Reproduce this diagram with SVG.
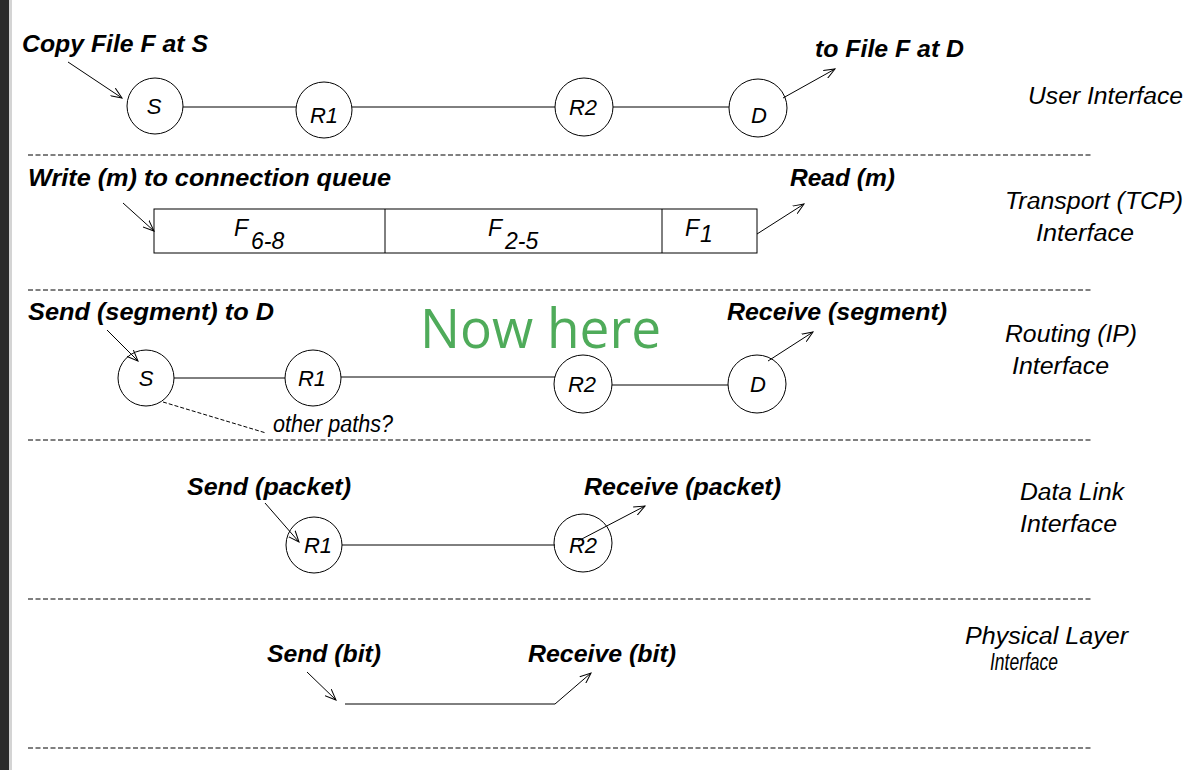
<svg xmlns="http://www.w3.org/2000/svg" width="1186" height="770" viewBox="0 0 1186 770">
<defs>
<style>
.bg{fill:#ffffff}
.node{fill:#ffffff;stroke:#000;stroke-width:1}
.edge{stroke:#000;stroke-width:1;fill:none}
.arr{stroke:#000;stroke-width:1;fill:none;marker-end:url(#ah)}
.sep{stroke:#000;stroke-width:1;stroke-dasharray:5,2.5;fill:none}
.lbl{font-family:"Liberation Sans",Arial,sans-serif;font-style:italic;font-weight:bold;font-size:23px;fill:#000}
.side{font-family:"Liberation Sans",Arial,sans-serif;font-style:italic;font-size:23px;fill:#000}
.nl{font-family:"Liberation Sans",Arial,sans-serif;font-style:italic;font-size:22px;fill:#000;text-anchor:middle}
.now{font-family:"Open Sans","Noto Sans",sans-serif;font-size:54px;fill:#4fab5a}
</style>
<marker id="ah" viewBox="0 0 12 10" refX="11" refY="5" markerWidth="12" markerHeight="10" markerUnits="userSpaceOnUse" orient="auto">
<path d="M0,0.5 L11,5 L0,9.5" fill="none" stroke="#000" stroke-width="1"/>
</marker>
</defs>
<rect class="bg" x="0" y="0" width="1186" height="770"/>
<rect x="0" y="0" width="9" height="770" fill="#2b2b2b"/>
<rect x="9" y="0" width="3" height="770" fill="#d4d4d4"/>

<g id="separators">
<line class="sep" x1="28" y1="155" x2="1092" y2="155"/>
<line class="sep" x1="28" y1="290" x2="1092" y2="290"/>
<line class="sep" x1="28" y1="440" x2="1092" y2="440"/>
<line class="sep" x1="28" y1="599" x2="1092" y2="599"/>
<line class="sep" x1="28" y1="748" x2="1092" y2="748"/>
</g>

<g id="layer-user">
<g id="u-S"><circle class="node" cx="155" cy="106" r="28"/><text class="nl" x="154" y="114">S</text></g>
<g id="u-R1"><circle class="node" cx="324" cy="110" r="28"/><text class="nl" x="324" y="123">R1</text></g>
<g id="u-R2"><circle class="node" cx="584" cy="107" r="29"/><text class="nl" x="583" y="115">R2</text></g>
<g id="u-D"><circle class="node" cx="758" cy="108" r="29"/><text class="nl" x="759" y="123">D</text></g>
<text class="lbl" x="22" y="52" textLength="186" lengthAdjust="spacingAndGlyphs">Copy File F at S</text>
<text class="lbl" x="815" y="57" textLength="149" lengthAdjust="spacingAndGlyphs">to File F at D</text>
<text class="side" x="1028" y="104" textLength="155" lengthAdjust="spacingAndGlyphs">User Interface</text>
</g>

<g id="layer-transport">
<g id="queue">
<rect class="node" x="154" y="209" width="603" height="44"/>
<line class="edge" x1="385" y1="209" x2="385" y2="253"/>
<line class="edge" x1="662" y1="209" x2="662" y2="253"/>
<text class="side" x="234" y="236">F</text><text class="side" x="251" y="249" font-size="20">6-8</text>
<text class="side" x="488" y="236">F</text><text class="side" x="505" y="249" font-size="20">2-5</text>
<text class="side" x="685" y="236">F</text><text class="side" x="700" y="242" font-size="19">1</text>
</g>
<text class="lbl" x="28" y="186" textLength="363" lengthAdjust="spacingAndGlyphs">Write (m) to connection queue</text>
<text class="lbl" x="790" y="186" textLength="105" lengthAdjust="spacingAndGlyphs">Read (m)</text>
<text class="side" x="1005" y="209" textLength="178" lengthAdjust="spacingAndGlyphs">Transport (TCP)</text>
<text class="side" x="1036" y="241" textLength="98" lengthAdjust="spacingAndGlyphs">Interface</text>
</g>

<g id="layer-routing">
<g id="r-S"><circle class="node" cx="146" cy="378" r="28"/><text class="nl" x="146" y="386">S</text></g>
<g id="r-R1"><circle class="node" cx="313" cy="378" r="28"/><text class="nl" x="312" y="386">R1</text></g>
<g id="r-R2"><circle class="node" cx="583" cy="384" r="29"/><text class="nl" x="582" y="392">R2</text></g>
<g id="r-D"><circle class="node" cx="757" cy="384" r="29"/><text class="nl" x="758" y="392">D</text></g>
<text class="lbl" x="28" y="320" textLength="246" lengthAdjust="spacingAndGlyphs">Send (segment) to D</text>
<text class="lbl" x="727" y="320" textLength="220" lengthAdjust="spacingAndGlyphs">Receive (segment)</text>
<text class="side" x="273" y="432" font-size="20" textLength="120" lengthAdjust="spacingAndGlyphs">other paths?</text>
<text class="now" x="420" y="348" textLength="241" lengthAdjust="spacingAndGlyphs">Now here</text>
<text class="side" x="1005" y="342" textLength="132" lengthAdjust="spacingAndGlyphs">Routing (IP)</text>
<text class="side" x="1012" y="374" textLength="97" lengthAdjust="spacingAndGlyphs">Interface</text>
</g>

<g id="layer-datalink">
<g id="d-R1"><circle class="node" cx="314" cy="545" r="28"/><text class="nl" x="318" y="553">R1</text></g>
<g id="d-R2"><circle class="node" cx="583" cy="543" r="29"/><text class="nl" x="583" y="553">R2</text></g>
<text class="lbl" x="187" y="495" textLength="164" lengthAdjust="spacingAndGlyphs">Send (packet)</text>
<text class="lbl" x="584" y="495" textLength="197" lengthAdjust="spacingAndGlyphs">Receive (packet)</text>
<text class="side" x="1020" y="500" textLength="104" lengthAdjust="spacingAndGlyphs">Data Link</text>
<text class="side" x="1020" y="532" textLength="97" lengthAdjust="spacingAndGlyphs">Interface</text>
</g>

<g id="layer-physical">
<text class="lbl" x="267" y="662" textLength="114" lengthAdjust="spacingAndGlyphs">Send (bit)</text>
<text class="lbl" x="528" y="662" textLength="148" lengthAdjust="spacingAndGlyphs">Receive (bit)</text>
<text class="side" x="965" y="644" font-size="21" textLength="163" lengthAdjust="spacingAndGlyphs">Physical Layer</text>
<text class="side" x="990" y="670" font-size="20" textLength="68" lengthAdjust="spacingAndGlyphs">Interface</text>
</g>

<g id="connectors">
<line class="edge" x1="183" y1="107" x2="296" y2="107"/>
<line class="edge" x1="352" y1="107" x2="555" y2="107"/>
<line class="edge" x1="613" y1="107" x2="729" y2="107"/>
<line class="arr" x1="68" y1="62" x2="122" y2="98"/>
<line class="arr" x1="783" y1="98" x2="835" y2="69"/>
<line class="arr" x1="123" y1="203" x2="154" y2="231"/>
<line class="arr" x1="757" y1="234" x2="804" y2="204"/>
<line class="edge" x1="174" y1="378" x2="285" y2="378"/>
<line class="edge" x1="341" y1="377" x2="555" y2="377"/>
<line class="edge" x1="612" y1="385" x2="728" y2="385"/>
<line class="edge" x1="163" y1="402" x2="266" y2="433" stroke-dasharray="4,2"/>
<line class="arr" x1="107" y1="330" x2="138" y2="361"/>
<line class="arr" x1="768" y1="361" x2="813" y2="332"/>
<line class="edge" x1="342" y1="545" x2="555" y2="545"/>
<line class="arr" x1="265" y1="503" x2="299" y2="542"/>
<line class="arr" x1="578" y1="541" x2="645" y2="506"/>
<line class="arr" x1="307" y1="672" x2="336" y2="700"/>
<line class="edge" x1="345" y1="704" x2="555" y2="704"/>
<line class="arr" x1="555" y1="704" x2="591" y2="673"/>
</g>
</svg>
